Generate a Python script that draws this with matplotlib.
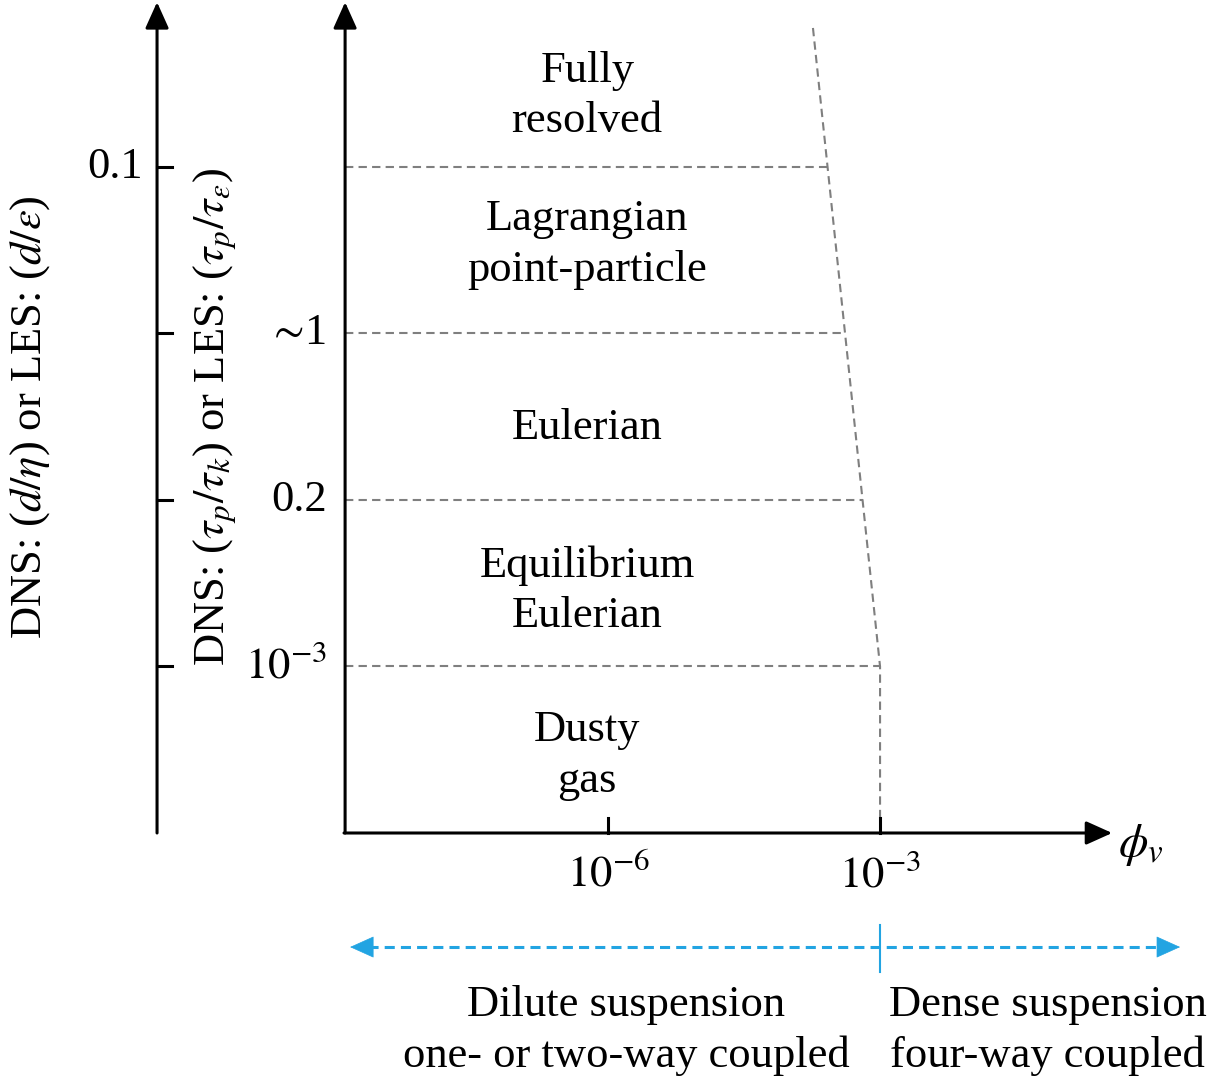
import numpy as np
import matplotlib
matplotlib.use('Agg')
import matplotlib.pyplot as plt

plt.rcParams['font.family'] = ['Liberation Serif', 'DejaVu Serif']
plt.rcParams['mathtext.fontset'] = 'stix'

# regime boundaries on the stacked Stokes-number axis (0 = bottom of chart)
boundary_levels = [1, 2, 3, 4]
inner_tick_labels = [r'$10^{-3}$', '0.2', r'$\sim\!$1', '']
outer_tick_labels = ['', '', '', '0.1']

regimes = ['Dusty\ngas', 'Equilibrium\nEulerian', 'Eulerian',
           'Lagrangian\npoint-particle', 'Fully\nresolved']
regime_levels = [0.53, 1.52, 2.5, 3.6, 4.49]

# volume fraction axis, in log10(phi_v)
x_ticks = [-6, -3]
x_tick_labels = [r'$10^{-6}$', r'$10^{-3}$']
phi_dense = -3.0        # dilute / dense threshold
phi_top = -3.74         # slanted limit at the top of the chart
level_top = 4.835

suspension_labels = ['Dilute suspension\none- or two-way coupled',
                     'Dense suspension\nfour-way coupled']
suspension_x = [-5.8, -1.15]

# layout
x_axis0 = -8.9          # inner (main) vertical axis
x_outer = -10.974       # outer vertical axis
x_end = -0.44
y_top = 4.99
y_blue = -0.685
text_shift = -0.065     # optical centring of the regime names
fs = 32
lsp = 1.33
grey = '#7f7f7f'
blue = '#22a4e2'

fig = plt.figure(figsize=(12.12, 10.83), dpi=100)
ax = fig.add_axes([0, 0, 1, 1])
ax.set_xlim(-12.706, 0.661)
ax.set_ylim(-1.5015, 5.003)
ax.axis('off')

head = dict(arrowstyle='-|>,head_length=0.8,head_width=0.36', lw=2.2,
            color='k', shrinkA=0, shrinkB=0, mutation_scale=20)

# axes with arrow heads
ax.annotate('', xy=(x_outer, y_top), xytext=(x_outer, 0), arrowprops=head)
ax.annotate('', xy=(x_axis0, y_top), xytext=(x_axis0, 0), arrowprops=head)
ax.annotate('', xy=(x_end, 0), xytext=(x_axis0 - 0.012, 0), arrowprops=head)

# slanted / vertical limit of dilute regime
lim_x = [phi_top, phi_dense, phi_dense]
lim_y = [level_top, 1, 0]
ax.plot(lim_x, lim_y, color=grey, lw=1.5, ls=(0, (4, 2.5)))

# horizontal regime boundaries
for lev, lab_in, lab_out in zip(boundary_levels, inner_tick_labels, outer_tick_labels):
    x_stop = np.interp(lev, lim_y[:2][::-1], lim_x[:2][::-1])
    ax.plot([x_axis0, x_stop], [lev, lev], color=grey, lw=1.5, ls=(0, (4, 2.5)))
    ax.plot([x_outer, x_outer + 0.165], [lev, lev], color='k', lw=2.2)
    if lab_in:
        ax.text(x_axis0 - 0.2, lev, lab_in, ha='right', va='center', fontsize=fs)
    if lab_out:
        ax.text(x_outer - 0.16, lev, lab_out, ha='right', va='center', fontsize=fs)

# regime names
for name, lev in zip(regimes, regime_levels):
    ax.text(-6.23, lev + text_shift, name, ha='center', va='center', fontsize=fs,
            linespacing=lsp)

# x ticks
for xt, lab in zip(x_ticks, x_tick_labels):
    ax.plot([xt, xt], [0, 0.09], color='k', lw=2.2)
    ax.text(xt, -0.25, lab, ha='center', va='center', fontsize=fs)
ax.text(-0.12, -0.075, r'$\phi_v$', ha='center', va='center', fontsize=fs + 2)

# y labels
ax.text(-12.375, 2.5, r'DNS: ($d/\eta$) or LES: ($d/\varepsilon$)', rotation=90,
        ha='center', va='center', fontsize=fs)
ax.text(-10.334, 2.5, r'DNS: ($\tau_p/\tau_k$) or LES: ($\tau_p/\tau_\varepsilon$)',
        rotation=90, ha='center', va='center', fontsize=fs)

# dilute / dense arrow
x_left, x_right = -8.845, 0.309
ax.plot([x_left + 0.2, x_right - 0.2], [y_blue, y_blue], color=blue, lw=2.2,
        ls=(0, (3.3, 2)))
bhead = dict(head, color=blue, lw=0.5)
ax.annotate('', xy=(x_left, y_blue), xytext=(x_left + 0.25, y_blue), arrowprops=bhead)
ax.annotate('', xy=(x_right, y_blue), xytext=(x_right - 0.25, y_blue), arrowprops=bhead)
ax.plot([phi_dense, phi_dense], [-0.553, -0.835], color=blue, lw=1.5)

for lab, xs in zip(suspension_labels, suspension_x):
    ax.text(xs, -1.185, lab, ha='center', va='center', fontsize=fs, linespacing=lsp)

fig.savefig('out.png', dpi=100)
